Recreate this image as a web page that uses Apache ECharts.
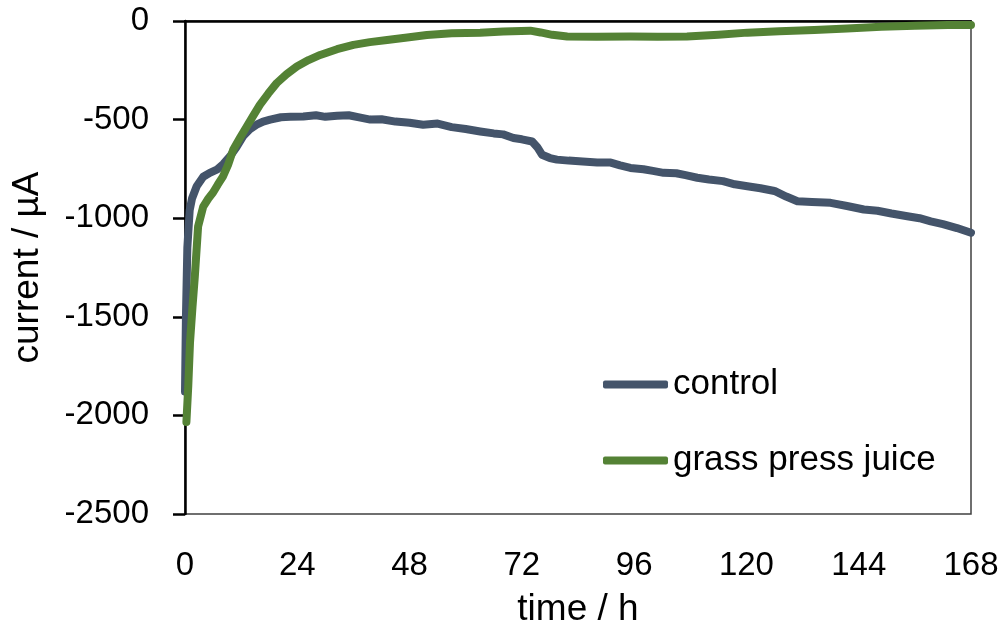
<!DOCTYPE html>
<html>
<head>
<meta charset="utf-8">
<script src="https://cdn.jsdelivr.net/npm/echarts@6/dist/echarts.min.js"></script>
<style>
html,body{margin:0;padding:0;background:#fff;}
#c{width:1002px;height:633px;}
</style>
</head>
<body>
<div id="c"></div>
<script>
// ---- data ----
var seriesNames = ["control", "grass press juice"];
var xTicks = [0, 24, 48, 72, 96, 120, 144, 168];
var yTicks = [-2500, -2000, -1500, -1000, -500, 0];

var controlTime = [0, 0.2, 0.5, 1.0, 1.5, 2.5, 3.9, 5.3, 6.8, 8.2, 9.6, 11.0, 12.4, 13.8, 15.3, 16.7, 18.2, 20.5, 22.5, 25.3, 28, 30, 32.5, 35, 37.5, 39.6, 42, 45, 48, 50.9, 54, 57, 60, 63.1, 66, 68, 70.2, 72, 74.2, 75.3, 76.3, 78, 79.5, 82, 85, 88.1, 91, 93, 95.2, 98, 100, 102.3, 105, 107, 109.5, 112, 115, 117.5, 120.2, 123, 126, 128.5, 130.9, 134, 138, 141.5, 145.1, 148, 151, 154.4, 157, 159.4, 162, 165, 168];
var controlCurrent = [-1880, -1500, -1150, -960, -900, -838, -790, -770, -754, -725, -687, -640, -585, -550, -526, -510, -500, -488, -486, -484, -478, -486, -481, -478, -490, -500, -498, -510, -516, -526, -520, -538, -548, -560, -570, -575, -593, -600, -611, -640, -678, -695, -703, -708, -712, -717, -718, -732, -745, -752, -760, -770, -772, -782, -795, -804, -812, -828, -838, -848, -862, -890, -914, -918, -922, -938, -956, -962, -976, -990, -1000, -1016, -1030, -1050, -1074];

var grassTime = [0.3, 0.7, 1.07, 1.6, 2.1, 2.8, 3.9, 5.0, 6.0, 7.0, 8.1, 9.2, 10.3, 11.7, 13.2, 14.6, 16.0, 17.8, 19.6, 21.7, 23.9, 26.4, 28.9, 32.5, 36, 39.5, 43.2, 47.5, 51.7, 57, 63.1, 68, 73.8, 76, 78.5, 81.7, 88, 95.2, 101, 107.3, 114, 120.2, 127, 134.5, 141.5, 148.8, 156, 163, 168];
var grassCurrent = [-2034, -1850, -1630, -1450, -1295, -1042, -941, -900, -870, -830, -789, -730, -653, -595, -535, -480, -425, -368, -315, -270, -231, -198, -172, -143, -121, -107, -96, -84, -71, -62, -59, -53, -49, -58, -70, -79, -80, -79, -80, -79, -70, -59, -52, -46, -38, -29, -24, -20, -20];

function zip(a, b) { return a.map(function (v, i) { return [v, b[i]]; }); }

var FONT = '"Liberation Sans", Arial, sans-serif';
var chart = echarts.init(document.getElementById('c'), null, {renderer: 'canvas'});
chart.setOption({
  animation: false,
  backgroundColor: '#ffffff',
  grid: {left: 185, right: 31, top: 21, bottom: 118, show: true, borderColor: '#404040', borderWidth: 1.5, backgroundColor: 'transparent'},
  legend: {
    orient: 'vertical', left: 603, top: 367, padding: 0,
    itemWidth: 65, itemHeight: 8, itemGap: 41,
    icon: 'roundRect',
    textStyle: {fontFamily: FONT, fontSize: 35, color: '#000'},
    data: seriesNames
  },
  xAxis: [{
    type: 'value', min: xTicks[0], max: xTicks[xTicks.length - 1], interval: 24,
    position: 'bottom',
    name: 'time / h', nameLocation: 'middle', nameGap: 77,
    nameTextStyle: {fontFamily: FONT, fontSize: 37, color: '#000'},
    axisLine: {show: false}, axisTick: {show: false}, splitLine: {show: false},
    axisLabel: {fontFamily: FONT, fontSize: 33, color: '#000', margin: 35}
  }, {
    type: 'value', min: xTicks[0], max: xTicks[xTicks.length - 1], interval: 24,
    position: 'top',
    axisLine: {show: true, onZero: false, lineStyle: {color: '#000', width: 2.5}},
    axisTick: {show: false}, axisLabel: {show: false}, splitLine: {show: false}
  }],
  yAxis: {
    type: 'value', min: yTicks[0], max: yTicks[yTicks.length - 1], interval: 500,
    name: 'current / µA', nameLocation: 'middle', nameGap: 139,
    nameTextStyle: {fontFamily: FONT, fontSize: 37, color: '#000'},
    axisLine: {show: true, onZero: false, lineStyle: {color: '#000', width: 2.5}},
    axisTick: {show: true, inside: false, length: 12, lineStyle: {color: '#000', width: 2.5}},
    splitLine: {show: false},
    axisLabel: {fontFamily: FONT, fontSize: 33, color: '#000', margin: 36,
      formatter: function (v) { return String(v); }}
  },
  series: [{
    name: seriesNames[0], type: 'line', showSymbol: false, symbol: 'none',
    data: zip(controlTime, controlCurrent),
    lineStyle: {color: '#44546A', width: 8, cap: 'round', join: 'round'},
    itemStyle: {color: '#44546A'}
  }, {
    name: seriesNames[1], type: 'line', showSymbol: false, symbol: 'none',
    data: zip(grassTime, grassCurrent),
    lineStyle: {color: '#548235', width: 8, cap: 'round', join: 'round'},
    itemStyle: {color: '#548235'}
  }]
});
</script>
</body>
</html>
